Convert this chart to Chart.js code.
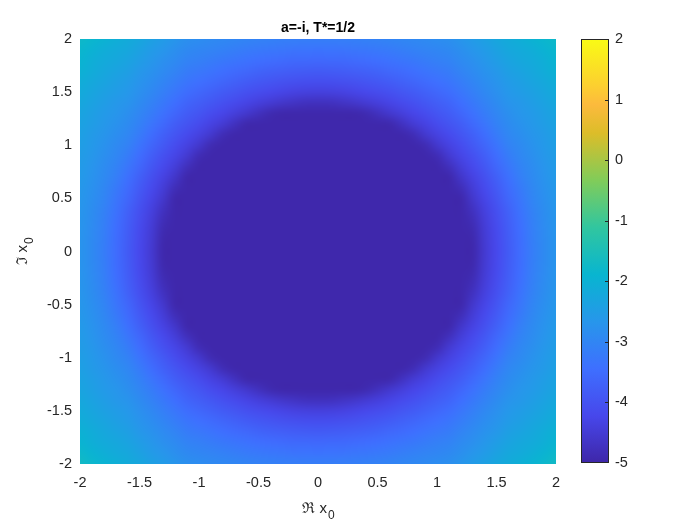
<!DOCTYPE html>
<html>
<head>
<meta charset="utf-8">
<script src="https://cdn.jsdelivr.net/npm/chart.js@4.4.1/dist/chart.umd.min.js"></script>
<style>
  html, body { margin: 0; padding: 0; background: #fff; }
  #wrap { position: relative; width: 700px; height: 525px; }
  #main { position: absolute; left: 0; top: 0; }
  #cbar { position: absolute; left: 575px; top: 0; }
</style>
</head>
<body>
<div id="wrap">
  <canvas id="main" width="700" height="525"></canvas>
  <canvas id="cbar" width="125" height="525"></canvas>
</div>
<script>
// grid of Re x0 / Im x0 (step 0.1), rows listed from top (Im=2) to bottom (Im=-2)
const xValues = [-2, -1.9, -1.8, -1.7, -1.6, -1.5, -1.4, -1.3, -1.2, -1.1, -1, -0.9, -0.8, -0.7, -0.6, -0.5, -0.4, -0.3, -0.2, -0.1, 0,
  0.1, 0.2, 0.3, 0.4, 0.5, 0.6, 0.7, 0.8, 0.9, 1, 1.1, 1.2, 1.3, 1.4, 1.5, 1.6, 1.7, 1.8, 1.9, 2];
const yValues = [2, 1.9, 1.8, 1.7, 1.6, 1.5, 1.4, 1.3, 1.2, 1.1, 1, 0.9, 0.8, 0.7, 0.6, 0.5, 0.4, 0.3, 0.2, 0.1, 0,
  -0.1, -0.2, -0.3, -0.4, -0.5, -0.6, -0.7, -0.8, -0.9, -1, -1.1, -1.2, -1.3, -1.4, -1.5, -1.6, -1.7, -1.8, -1.9, -2];

const F = -4.95; // flat floor inside the disc

const zRows = [
  [-1.77, -1.86, -1.96, -2.06, -2.16, -2.28, -2.42, -2.55, -2.68, -2.80, -2.85, -2.90, -2.94, -2.98, -3.02, -3.06, -3.09, -3.12, -3.13, -3.14, -3.15, -3.14, -3.13, -3.12, -3.09, -3.06, -3.02, -2.98, -2.94, -2.90, -2.85, -2.80, -2.68, -2.55, -2.42, -2.28, -2.16, -2.06, -1.96, -1.86, -1.77],
  [-1.85, -1.97, -2.08, -2.17, -2.25, -2.39, -2.54, -2.67, -2.80, -2.92, -2.98, -3.03, -3.09, -3.15, -3.20, -3.24, -3.28, -3.31, -3.34, -3.35, -3.36, -3.35, -3.34, -3.31, -3.28, -3.24, -3.20, -3.15, -3.09, -3.03, -2.98, -2.92, -2.80, -2.67, -2.54, -2.39, -2.25, -2.17, -2.08, -1.97, -1.85],
  [-1.92, -2.06, -2.17, -2.25, -2.35, -2.50, -2.65, -2.79, -2.91, -3.04, -3.11, -3.19, -3.26, -3.32, -3.39, -3.44, -3.49, -3.53, -3.56, -3.57, -3.58, -3.57, -3.56, -3.53, -3.49, -3.44, -3.39, -3.32, -3.26, -3.19, -3.11, -3.04, -2.91, -2.79, -2.65, -2.50, -2.35, -2.25, -2.17, -2.06, -1.92],
  [-1.99, -2.13, -2.24, -2.35, -2.45, -2.61, -2.75, -2.89, -3.03, -3.18, -3.27, -3.35, -3.44, -3.52, -3.59, -3.66, -3.71, -3.76, -3.80, -3.82, -3.83, -3.82, -3.80, -3.76, -3.71, -3.66, -3.59, -3.52, -3.44, -3.35, -3.27, -3.18, -3.03, -2.89, -2.75, -2.61, -2.45, -2.35, -2.24, -2.13, -1.99],
  [-2.09, -2.22, -2.33, -2.44, -2.55, -2.70, -2.85, -3.00, -3.16, -3.32, -3.43, -3.53, -3.63, -3.72, -3.81, -3.89, -3.95, -4.01, -4.05, -4.08, -4.09, -4.08, -4.05, -4.01, -3.95, -3.89, -3.81, -3.72, -3.63, -3.53, -3.43, -3.32, -3.16, -3.00, -2.85, -2.70, -2.55, -2.44, -2.33, -2.22, -2.09],
  [-2.18, -2.30, -2.42, -2.53, -2.63, -2.79, -2.95, -3.13, -3.30, -3.48, -3.60, -3.72, -3.83, -3.94, -4.04, -4.13, -4.21, -4.28, -4.34, -4.37, -4.38, -4.37, -4.34, -4.28, -4.21, -4.13, -4.04, -3.94, -3.83, -3.72, -3.60, -3.48, -3.30, -3.13, -2.95, -2.79, -2.63, -2.53, -2.42, -2.30, -2.18],
  [-2.25, -2.37, -2.49, -2.61, -2.71, -2.88, -3.07, -3.26, -3.46, -3.65, -3.78, -3.91, -4.04, -4.17, -4.29, -4.40, -4.50, -4.60, -4.68, -4.73, -4.75, -4.73, -4.68, -4.60, -4.50, -4.40, -4.29, -4.17, -4.04, -3.91, -3.78, -3.65, -3.46, -3.26, -3.07, -2.88, -2.71, -2.61, -2.49, -2.37, -2.25],
  [-2.31, -2.44, -2.57, -2.67, -2.80, -2.99, -3.19, -3.41, -3.62, -3.81, -3.96, -4.12, -4.26, -4.42, -4.57, -4.75, -4.89,
    F, F, F, F, F, F, F,
    -4.89, -4.75, -4.57, -4.42, -4.26, -4.12, -3.96, -3.81, -3.62, -3.41, -3.19, -2.99, -2.80, -2.67, -2.57, -2.44, -2.31],
  [-2.37, -2.50, -2.62, -2.75, -2.88, -3.09, -3.33, -3.57, -3.79, -3.98, -4.15, -4.33, -4.50, -4.73, -4.94,
    F, F, F, F, F, F, F, F, F, F, F,
    -4.94, -4.73, -4.50, -4.33, -4.15, -3.98, -3.79, -3.57, -3.33, -3.09, -2.88, -2.75, -2.62, -2.50, -2.37],
  [-2.43, -2.56, -2.68, -2.82, -2.97, -3.21, -3.48, -3.73, -3.95, -4.16, -4.35, -4.56, -4.84,
    F, F, F, F, F, F, F, F, F, F, F, F, F, F, F,
    -4.84, -4.56, -4.35, -4.16, -3.95, -3.73, -3.48, -3.21, -2.97, -2.82, -2.68, -2.56, -2.43],
  [-2.47, -2.60, -2.74, -2.90, -3.06, -3.35, -3.63, -3.88, -4.12, -4.34, -4.57, -4.87,
    F, F, F, F, F, F, F, F, F, F, F, F, F, F, F, F, F,
    -4.87, -4.57, -4.34, -4.12, -3.88, -3.63, -3.35, -3.06, -2.90, -2.74, -2.60, -2.47],
  [-2.51, -2.65, -2.80, -2.97, -3.18, -3.49, -3.77, -4.04, -4.28, -4.52, -4.85,
    F, F, F, F, F, F, F, F, F, F, F, F, F, F, F, F, F, F, F,
    -4.85, -4.52, -4.28, -4.04, -3.77, -3.49, -3.18, -2.97, -2.80, -2.65, -2.51],
  [-2.55, -2.69, -2.86, -3.04, -3.30, -3.61, -3.91, -4.19, -4.44, -4.77,
    F, F, F, F, F, F, F, F, F, F, F, F, F, F, F, F, F, F, F, F, F,
    -4.77, -4.44, -4.19, -3.91, -3.61, -3.30, -3.04, -2.86, -2.69, -2.55],
  [-2.58, -2.73, -2.91, -3.13, -3.42, -3.74, -4.05, -4.33, -4.62,
    F, F, F, F, F, F, F, F, F, F, F, F, F, F, F, F, F, F, F, F, F, F, F,
    -4.62, -4.33, -4.05, -3.74, -3.42, -3.13, -2.91, -2.73, -2.58],
  [-2.61, -2.77, -2.96, -3.22, -3.52, -3.85, -4.16, -4.45, -4.82,
    F, F, F, F, F, F, F, F, F, F, F, F, F, F, F, F, F, F, F, F, F, F, F,
    -4.82, -4.45, -4.16, -3.85, -3.52, -3.22, -2.96, -2.77, -2.61],
  [-2.64, -2.81, -3.01, -3.30, -3.61, -3.96, -4.27, -4.58,
    F, F, F, F, F, F, F, F, F, F, F, F, F, F, F, F, F, F, F, F, F, F, F, F, F,
    -4.58, -4.27, -3.96, -3.61, -3.30, -3.01, -2.81, -2.64],
  [-2.66, -2.84, -3.06, -3.36, -3.70, -4.04, -4.36, -4.71,
    F, F, F, F, F, F, F, F, F, F, F, F, F, F, F, F, F, F, F, F, F, F, F, F, F,
    -4.71, -4.36, -4.04, -3.70, -3.36, -3.06, -2.84, -2.66],
  [-2.68, -2.87, -3.10, -3.42, -3.75, -4.11, -4.43, -4.82,
    F, F, F, F, F, F, F, F, F, F, F, F, F, F, F, F, F, F, F, F, F, F, F, F, F,
    -4.82, -4.43, -4.11, -3.75, -3.42, -3.10, -2.87, -2.68],
  [-2.69, -2.89, -3.13, -3.46, -3.79, -4.16, -4.48, -4.89,
    F, F, F, F, F, F, F, F, F, F, F, F, F, F, F, F, F, F, F, F, F, F, F, F, F,
    -4.89, -4.48, -4.16, -3.79, -3.46, -3.13, -2.89, -2.69],
  [-2.70, -2.90, -3.15, -3.48, -3.82, -4.19, -4.51, -4.94,
    F, F, F, F, F, F, F, F, F, F, F, F, F, F, F, F, F, F, F, F, F, F, F, F, F,
    -4.94, -4.51, -4.19, -3.82, -3.48, -3.15, -2.90, -2.70],
  [-2.70, -2.90, -3.16, -3.49, -3.83, -4.20, -4.52,
    F, F, F, F, F, F, F, F, F, F, F, F, F, F, F, F, F, F, F, F, F, F, F, F, F, F, F,
    -4.52, -4.20, -3.83, -3.49, -3.16, -2.90, -2.70],
  [-2.70, -2.90, -3.15, -3.48, -3.82, -4.19, -4.51, -4.94,
    F, F, F, F, F, F, F, F, F, F, F, F, F, F, F, F, F, F, F, F, F, F, F, F, F,
    -4.94, -4.51, -4.19, -3.82, -3.48, -3.15, -2.90, -2.70],
  [-2.69, -2.89, -3.13, -3.46, -3.79, -4.16, -4.48, -4.89,
    F, F, F, F, F, F, F, F, F, F, F, F, F, F, F, F, F, F, F, F, F, F, F, F, F,
    -4.89, -4.48, -4.16, -3.79, -3.46, -3.13, -2.89, -2.69],
  [-2.68, -2.87, -3.10, -3.42, -3.75, -4.11, -4.43, -4.82,
    F, F, F, F, F, F, F, F, F, F, F, F, F, F, F, F, F, F, F, F, F, F, F, F, F,
    -4.82, -4.43, -4.11, -3.75, -3.42, -3.10, -2.87, -2.68],
  [-2.66, -2.84, -3.06, -3.36, -3.70, -4.04, -4.36, -4.71,
    F, F, F, F, F, F, F, F, F, F, F, F, F, F, F, F, F, F, F, F, F, F, F, F, F,
    -4.71, -4.36, -4.04, -3.70, -3.36, -3.06, -2.84, -2.66],
  [-2.64, -2.81, -3.01, -3.30, -3.61, -3.96, -4.27, -4.58,
    F, F, F, F, F, F, F, F, F, F, F, F, F, F, F, F, F, F, F, F, F, F, F, F, F,
    -4.58, -4.27, -3.96, -3.61, -3.30, -3.01, -2.81, -2.64],
  [-2.61, -2.77, -2.96, -3.22, -3.52, -3.85, -4.16, -4.45, -4.82,
    F, F, F, F, F, F, F, F, F, F, F, F, F, F, F, F, F, F, F, F, F, F, F,
    -4.82, -4.45, -4.16, -3.85, -3.52, -3.22, -2.96, -2.77, -2.61],
  [-2.58, -2.73, -2.91, -3.13, -3.42, -3.74, -4.05, -4.33, -4.62,
    F, F, F, F, F, F, F, F, F, F, F, F, F, F, F, F, F, F, F, F, F, F, F,
    -4.62, -4.33, -4.05, -3.74, -3.42, -3.13, -2.91, -2.73, -2.58],
  [-2.55, -2.69, -2.86, -3.04, -3.30, -3.61, -3.91, -4.19, -4.44, -4.77,
    F, F, F, F, F, F, F, F, F, F, F, F, F, F, F, F, F, F, F, F, F,
    -4.77, -4.44, -4.19, -3.91, -3.61, -3.30, -3.04, -2.86, -2.69, -2.55],
  [-2.51, -2.65, -2.80, -2.97, -3.18, -3.49, -3.77, -4.04, -4.28, -4.52, -4.85,
    F, F, F, F, F, F, F, F, F, F, F, F, F, F, F, F, F, F, F,
    -4.85, -4.52, -4.28, -4.04, -3.77, -3.49, -3.18, -2.97, -2.80, -2.65, -2.51],
  [-2.47, -2.60, -2.74, -2.90, -3.06, -3.35, -3.63, -3.88, -4.12, -4.34, -4.57, -4.87,
    F, F, F, F, F, F, F, F, F, F, F, F, F, F, F, F, F,
    -4.87, -4.57, -4.34, -4.12, -3.88, -3.63, -3.35, -3.06, -2.90, -2.74, -2.60, -2.47],
  [-2.43, -2.56, -2.68, -2.82, -2.97, -3.21, -3.48, -3.73, -3.95, -4.16, -4.35, -4.56, -4.84,
    F, F, F, F, F, F, F, F, F, F, F, F, F, F, F,
    -4.84, -4.56, -4.35, -4.16, -3.95, -3.73, -3.48, -3.21, -2.97, -2.82, -2.68, -2.56, -2.43],
  [-2.37, -2.50, -2.62, -2.75, -2.88, -3.09, -3.33, -3.57, -3.79, -3.98, -4.15, -4.33, -4.50, -4.73, -4.94,
    F, F, F, F, F, F, F, F, F, F, F,
    -4.94, -4.73, -4.50, -4.33, -4.15, -3.98, -3.79, -3.57, -3.33, -3.09, -2.88, -2.75, -2.62, -2.50, -2.37],
  [-2.31, -2.44, -2.57, -2.67, -2.80, -2.99, -3.19, -3.41, -3.62, -3.81, -3.96, -4.12, -4.26, -4.42, -4.57, -4.75, -4.89,
    F, F, F, F, F, F, F,
    -4.89, -4.75, -4.57, -4.42, -4.26, -4.12, -3.96, -3.81, -3.62, -3.41, -3.19, -2.99, -2.80, -2.67, -2.57, -2.44, -2.31],
  [-2.25, -2.37, -2.49, -2.61, -2.71, -2.88, -3.07, -3.26, -3.46, -3.65, -3.78, -3.91, -4.04, -4.17, -4.29, -4.40, -4.50, -4.60, -4.68, -4.73, -4.75, -4.73, -4.68, -4.60, -4.50, -4.40, -4.29, -4.17, -4.04, -3.91, -3.78, -3.65, -3.46, -3.26, -3.07, -2.88, -2.71, -2.61, -2.49, -2.37, -2.25],
  [-2.18, -2.30, -2.42, -2.53, -2.63, -2.79, -2.95, -3.13, -3.30, -3.48, -3.60, -3.72, -3.83, -3.94, -4.04, -4.13, -4.21, -4.28, -4.34, -4.37, -4.38, -4.37, -4.34, -4.28, -4.21, -4.13, -4.04, -3.94, -3.83, -3.72, -3.60, -3.48, -3.30, -3.13, -2.95, -2.79, -2.63, -2.53, -2.42, -2.30, -2.18],
  [-2.09, -2.22, -2.33, -2.44, -2.55, -2.70, -2.85, -3.00, -3.16, -3.32, -3.43, -3.53, -3.63, -3.72, -3.81, -3.89, -3.95, -4.01, -4.05, -4.08, -4.09, -4.08, -4.05, -4.01, -3.95, -3.89, -3.81, -3.72, -3.63, -3.53, -3.43, -3.32, -3.16, -3.00, -2.85, -2.70, -2.55, -2.44, -2.33, -2.22, -2.09],
  [-1.99, -2.13, -2.24, -2.35, -2.45, -2.61, -2.75, -2.89, -3.03, -3.18, -3.27, -3.35, -3.44, -3.52, -3.59, -3.66, -3.71, -3.76, -3.80, -3.82, -3.83, -3.82, -3.80, -3.76, -3.71, -3.66, -3.59, -3.52, -3.44, -3.35, -3.27, -3.18, -3.03, -2.89, -2.75, -2.61, -2.45, -2.35, -2.24, -2.13, -1.99],
  [-1.92, -2.06, -2.17, -2.25, -2.35, -2.50, -2.65, -2.79, -2.91, -3.04, -3.11, -3.19, -3.26, -3.32, -3.39, -3.44, -3.49, -3.53, -3.56, -3.57, -3.58, -3.57, -3.56, -3.53, -3.49, -3.44, -3.39, -3.32, -3.26, -3.19, -3.11, -3.04, -2.91, -2.79, -2.65, -2.50, -2.35, -2.25, -2.17, -2.06, -1.92],
  [-1.80, -1.95, -2.07, -2.17, -2.25, -2.39, -2.54, -2.67, -2.80, -2.92, -2.98, -3.03, -3.09, -3.15, -3.20, -3.24, -3.28, -3.31, -3.34, -3.35, -3.36, -3.35, -3.34, -3.31, -3.28, -3.24, -3.20, -3.15, -3.09, -3.03, -2.98, -2.92, -2.80, -2.67, -2.54, -2.39, -2.25, -2.17, -2.07, -1.95, -1.80],
  [-1.70, -1.82, -1.94, -2.05, -2.16, -2.28, -2.42, -2.55, -2.68, -2.80, -2.85, -2.90, -2.94, -2.98, -3.02, -3.06, -3.09, -3.12, -3.13, -3.14, -3.15, -3.14, -3.13, -3.12, -3.09, -3.06, -3.02, -2.98, -2.94, -2.90, -2.85, -2.80, -2.68, -2.55, -2.42, -2.28, -2.16, -2.05, -1.94, -1.82, -1.70]
];

const colorLimits = [-5, 2];
const chartTitle = 'a=-i, T*=1/2';

// parula colormap stops
const parulaStops = [
  [0.000, [62, 38, 168]],
  [0.111, [71, 71, 235]],
  [0.222, [62, 111, 255]],
  [0.333, [39, 150, 235]],
  [0.444, [8, 181, 208]],
  [0.556, [49, 198, 159]],
  [0.667, [129, 204, 89]],
  [0.778, [220, 189, 41]],
  [0.845, [252, 186, 61]],
  [0.889, [252, 207, 48]],
  [1.000, [249, 251, 21]]
];

const FONT = "'Liberation Sans', Arial, Helvetica, sans-serif";
const TEXT = '#262626';

if (zRows.length !== yValues.length) throw new Error('rows: ' + zRows.length);
zRows.forEach((r, k) => { if (r.length !== xValues.length) throw new Error('row ' + k + ' has ' + r.length); });

function parula(v) {
  let t = (v - colorLimits[0]) / (colorLimits[1] - colorLimits[0]);
  t = Math.max(0, Math.min(1, t));
  for (let k = 1; k < parulaStops.length; k++) {
    const [t1, c1] = parulaStops[k];
    const [t0, c0] = parulaStops[k - 1];
    if (t <= t1) {
      const f = (t - t0) / (t1 - t0);
      return c0.map((c, n) => Math.round(c + (c1[n] - c) * f));
    }
  }
  return parulaStops[parulaStops.length - 1][1];
}

const cells = [];
zRows.forEach((row, j) => row.forEach((v, i) => cells.push({ x: xValues[i], y: yValues[j], v, i, j })));

// paint the cells into a small image, then stretch it over the scale positions (smooth shading)
const heatmapPlugin = {
  id: 'heatmap',
  beforeDatasetsDraw(chart) {
    const { ctx, chartArea, scales: { x, y } } = chart;
    const off = document.createElement('canvas');
    off.width = xValues.length;
    off.height = yValues.length;
    const octx = off.getContext('2d');
    const img = octx.createImageData(off.width, off.height);
    chart.data.datasets[0].data.forEach(c => {
      const rgb = parula(c.v);
      const k = (c.j * off.width + c.i) * 4;
      img.data[k] = rgb[0]; img.data[k + 1] = rgb[1]; img.data[k + 2] = rgb[2]; img.data[k + 3] = 255;
    });
    octx.putImageData(img, 0, 0);
    const dx = (xValues[1] - xValues[0]) / 2;
    const dy = (yValues[0] - yValues[1]) / 2;
    const left = x.getPixelForValue(xValues[0] - dx);
    const right = x.getPixelForValue(xValues[xValues.length - 1] + dx);
    const top = y.getPixelForValue(yValues[0] + dy);
    const bottom = y.getPixelForValue(yValues[yValues.length - 1] - dy);
    ctx.save();
    ctx.beginPath();
    ctx.rect(chartArea.left, chartArea.top, chartArea.right - chartArea.left, chartArea.bottom - chartArea.top);
    ctx.clip();
    ctx.imageSmoothingEnabled = true;
    ctx.imageSmoothingQuality = 'high';
    ctx.drawImage(off, left, top, right - left, bottom - top);
    ctx.restore();
  }
};

function drawSubLabel(ctx, main, sub, cx, cy) {
  ctx.font = '15px ' + FONT;
  const w1 = ctx.measureText(main).width;
  ctx.font = '12px ' + FONT;
  const w2 = ctx.measureText(sub).width;
  const x0 = cx - (w1 + w2) / 2;
  ctx.textAlign = 'left';
  ctx.textBaseline = 'alphabetic';
  ctx.font = '15px ' + FONT;
  ctx.fillText(main, x0, cy);
  ctx.font = '12px ' + FONT;
  ctx.fillText(sub, x0 + w1 + 1, cy + 6);
}

const labelsPlugin = {
  id: 'labels',
  afterDraw(chart) {
    const { ctx, chartArea } = chart;
    const mid = (chartArea.left + chartArea.right) / 2;
    ctx.save();
    ctx.fillStyle = '#000';
    ctx.font = 'bold 14px ' + FONT;
    ctx.textAlign = 'center';
    ctx.textBaseline = 'alphabetic';
    ctx.fillText(chartTitle, mid, 32);

    ctx.fillStyle = TEXT;
    drawSubLabel(ctx, '\u211C x', '0', mid, 513);

    ctx.translate(27, (chartArea.top + chartArea.bottom) / 2);
    ctx.rotate(-Math.PI / 2);
    drawSubLabel(ctx, '\u2111 x', '0', 0, 0);
    ctx.restore();
  }
};

const tickLabel = v => String(Number(v.toFixed(2)));

new Chart(document.getElementById('main'), {
  type: 'scatter',
  data: {
    datasets: [{ data: cells, pointRadius: 0, pointHoverRadius: 0 }]
  },
  options: {
    responsive: false,
    animation: false,
    events: [],
    layout: { padding: { left: 0, right: 144, top: 39, bottom: 0 } },
    plugins: {
      legend: { display: false },
      tooltip: { enabled: false }
    },
    scales: {
      x: {
        type: 'linear', min: -2, max: 2,
        ticks: { stepSize: 0.5, color: TEXT, font: { family: FONT, size: 14.5 }, padding: 10, maxRotation: 0, autoSkip: false, callback: tickLabel },
        grid: { display: false, drawTicks: false },
        border: { display: false },
        afterFit: s => { s.height = 61; }
      },
      y: {
        type: 'linear', min: -2, max: 2,
        ticks: { stepSize: 0.5, color: TEXT, font: { family: FONT, size: 14.5 }, padding: 8, autoSkip: false, callback: tickLabel },
        grid: { display: false, drawTicks: false },
        border: { display: false },
        afterFit: s => { s.width = 80; }
      }
    }
  },
  plugins: [heatmapPlugin, labelsPlugin]
});

// colorbar
const colorbarFrame = {
  id: 'cbFrame',
  afterDraw(chart) {
    const { ctx, chartArea: a, scales: { y } } = chart;
    ctx.save();
    ctx.strokeStyle = TEXT;
    ctx.lineWidth = 1;
    ctx.strokeRect(a.left + 0.5, a.top + 0.5, a.right - a.left - 1, a.bottom - a.top - 1);
    y.ticks.forEach(t => {
      if (t.value <= colorLimits[0] || t.value >= colorLimits[1]) return;
      const py = Math.round(y.getPixelForValue(t.value)) + 0.5;
      ctx.beginPath();
      ctx.moveTo(a.right - 4, py);
      ctx.lineTo(a.right, py);
      ctx.stroke();
    });
    ctx.restore();
  }
};

new Chart(document.getElementById('cbar'), {
  type: 'bar',
  data: {
    labels: [''],
    datasets: [{
      data: [colorLimits],
      borderWidth: 0,
      barPercentage: 1,
      categoryPercentage: 1,
      backgroundColor: c => {
        const chart = c.chart;
        const y = chart.scales.y;
        if (!chart.chartArea || !y) return '#3e26a8';
        const g = chart.ctx.createLinearGradient(0, y.getPixelForValue(colorLimits[0]), 0, y.getPixelForValue(colorLimits[1]));
        parulaStops.forEach(([t, rgb]) => g.addColorStop(t, 'rgb(' + rgb.join(',') + ')'));
        return g;
      }
    }]
  },
  options: {
    responsive: false,
    animation: false,
    events: [],
    layout: { padding: { left: 6, right: 0, top: 39, bottom: 62 } },
    plugins: { legend: { display: false }, tooltip: { enabled: false } },
    scales: {
      x: { display: false },
      y: {
        position: 'right', min: colorLimits[0], max: colorLimits[1],
        ticks: { stepSize: 1, color: TEXT, font: { family: FONT, size: 14.5 }, padding: 6 },
        grid: { display: false, drawTicks: false },
        border: { display: false },
        afterFit: s => { s.width = 91; }
      }
    }
  },
  plugins: [colorbarFrame]
});
</script>
</body>
</html>
